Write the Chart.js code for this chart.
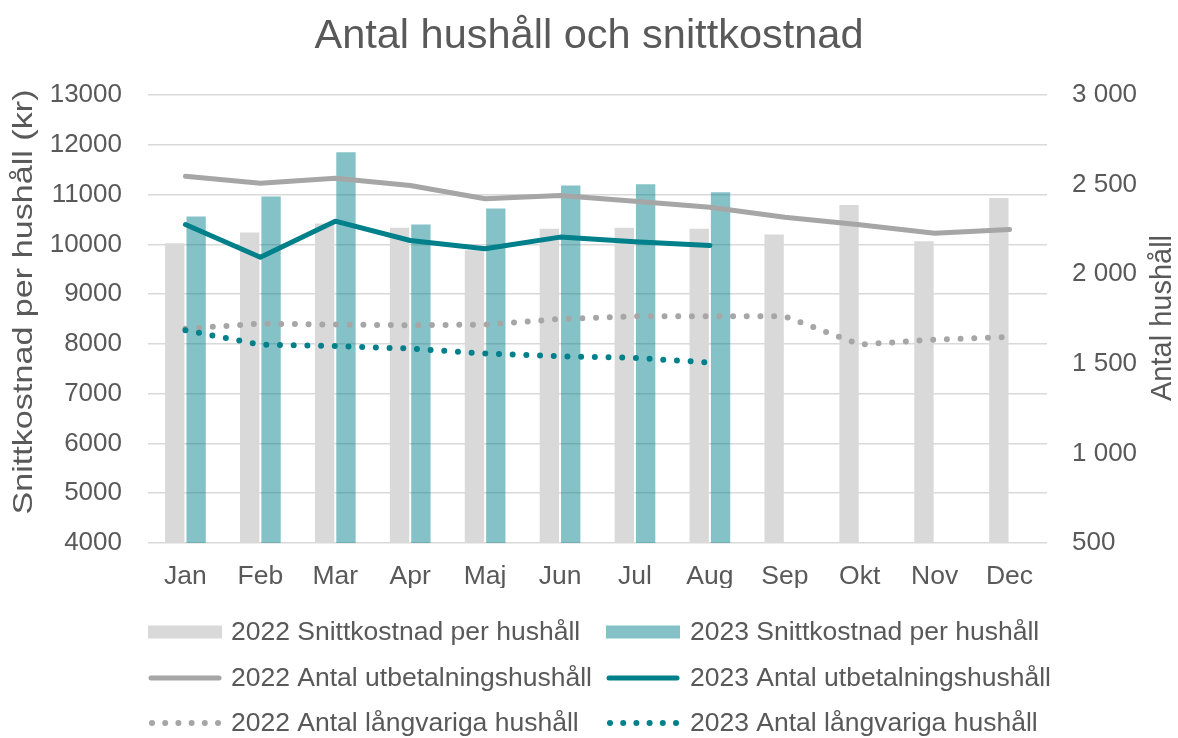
<!DOCTYPE html>
<html>
<head>
<meta charset="utf-8">
<script src="https://cdn.jsdelivr.net/npm/chart.js@4"></script>
<style>
  html, body { margin: 0; padding: 0; background: #fff; }
  #wrap { width: 1178px; height: 738px; }
</style>
</head>
<body>
<div id="wrap"><canvas id="c" width="1178" height="738"></canvas></div>
<script>
const categories = ['Jan','Feb','Mar','Apr','Maj','Jun','Jul','Aug','Sep','Okt','Nov','Dec'];
const cost2022 = [10020,10240,10420,10335,9880,10315,10335,10315,10200,10790,10060,10930];
const cost2023 = [10560,10960,11850,10400,10720,11180,11205,11045,null,null,null,null];
const hh2022 = [2547,2508,2535,2495,2421,2439,2407,2374,2318,2276,2229,2250];
const hh2023 = [2277,2095,2296,2188,2142,2207,2181,2160,null,null,null,null];
const long2022 = [1696,1724,1719,1715,1719,1750,1765,1765,1765,1607,1635,1650];
const long2023 = [1687,1607,1599,1585,1557,1542,1533,1507,null,null,null,null];
const leftTicks = [4000,13000,1000];
const rightTicks = [500,3000,500];
const leftTitle = 'Snittkostnad per hushåll (kr)';
const rightTitle = 'Antal hushåll';

const FONT = "'Liberation Sans', Arial, sans-serif";
const TXT = '#595959';
const GREY_BAR = '#D9D9D9';
const TEAL_BAR = 'rgba(0,128,138,0.48)';
const GREY_LINE = '#A6A6A6';
const TEAL_LINE = '#00808A';

function drawVerticalText(ctx, text, cx, cy, size, targetLen) {
  ctx.save();
  ctx.font = size + 'px ' + FONT;
  ctx.fillStyle = TXT;
  ctx.textAlign = 'center';
  ctx.textBaseline = 'middle';
  ctx.translate(cx, cy);
  ctx.rotate(-Math.PI / 2);
  if (targetLen) {
    const w = ctx.measureText(text).width;
    ctx.scale(targetLen / w, 1);
  }
  ctx.fillText(text, 0, 0);
  ctx.restore();
}

const legendPlugin = {
  id: 'customLegend',
  afterDraw(chart) {
    const ctx = chart.ctx;
    const ds = chart.data.datasets;
    const cols = [{sx: 148, tx: 231}, {sx: 606, tx: 690}];
    const rows = [632, 678, 723];
    const sw = 74;
    ctx.save();
    ctx.font = '26.5px ' + FONT;
    ctx.fillStyle = TXT;
    ctx.textBaseline = 'middle';
    ctx.textAlign = 'left';
    for (let i = 0; i < ds.length; i++) {
      const r = Math.floor(i / 2), c = i % 2;
      const y = rows[r], sx = cols[c].sx, tx = cols[c].tx;
      const d = ds[i];
      ctx.save();
      if (d.type === 'bar') {
        ctx.fillStyle = d.backgroundColor;
        ctx.fillRect(sx, y - 6.5, sw, 13);
      } else if (d.borderDash && d.borderDash.length) {
        ctx.fillStyle = d.borderColor;
        for (let k = 0; k < 6; k++) {
          ctx.beginPath();
          ctx.arc(sx + 4 + k * 13.2, y, 3, 0, Math.PI * 2);
          ctx.fill();
        }
      } else {
        ctx.strokeStyle = d.borderColor;
        ctx.lineWidth = 5;
        ctx.lineCap = 'round';
        ctx.beginPath();
        ctx.moveTo(sx + 3, y);
        ctx.lineTo(sx + sw - 3, y);
        ctx.stroke();
      }
      ctx.restore();
      ctx.fillStyle = TXT;
      ctx.fillText(d.label, tx, y + 1);
    }
    ctx.restore();
    drawVerticalText(ctx, leftTitle, 24, 302, 28, 425);
    drawVerticalText(ctx, rightTitle, 1163, 318, 29, 0);
  }
};

new Chart(document.getElementById('c'), {
  data: {
    labels: categories,
    datasets: [
      { type: 'bar', label: '2022 Snittkostnad per hushåll', data: cost2022, backgroundColor: GREY_BAR, yAxisID: 'y', order: 3, categoryPercentage: 0.57, barPercentage: 0.906 },
      { type: 'bar', label: '2023 Snittkostnad per hushåll', data: cost2023, backgroundColor: TEAL_BAR, yAxisID: 'y', order: 3, categoryPercentage: 0.57, barPercentage: 0.906 },
      { type: 'line', label: '2022 Antal utbetalningshushåll', data: hh2022, borderColor: GREY_LINE, borderWidth: 5, pointRadius: 0, yAxisID: 'y1', order: 2, borderCapStyle: 'round', borderJoinStyle: 'round', tension: 0 },
      { type: 'line', label: '2023 Antal utbetalningshushåll', data: hh2023, borderColor: TEAL_LINE, borderWidth: 5, pointRadius: 0, yAxisID: 'y1', order: 1, borderCapStyle: 'round', borderJoinStyle: 'round', tension: 0 },
      { type: 'line', label: '2022 Antal långvariga hushåll', data: long2022, borderColor: GREY_LINE, borderWidth: 6, pointRadius: 0, yAxisID: 'y1', order: 2, borderCapStyle: 'round', borderDash: [0, 13.7], tension: 0 },
      { type: 'line', label: '2023 Antal långvariga hushåll', data: long2023, borderColor: TEAL_LINE, borderWidth: 6, pointRadius: 0, yAxisID: 'y1', order: 1, borderCapStyle: 'round', borderDash: [0, 13.7], tension: 0 }
    ]
  },
  options: {
    responsive: false,
    animation: false,
    devicePixelRatio: 1,
    layout: { padding: { left: 0, right: 0, top: 0, bottom: 150 } },
    plugins: {
      legend: { display: false },
      tooltip: { enabled: false },
      title: {
        display: true,
        text: 'Antal hushåll och snittkostnad',
        color: TXT,
        font: { family: FONT, size: 41.5, weight: 'normal' },
        padding: { top: 12, bottom: 33.2 }
      }
    },
    scales: {
      x: {
        grid: { display: false, drawTicks: false },
        border: { display: false },
        ticks: { color: TXT, font: { family: FONT, size: 26.5 }, padding: 18, maxRotation: 0, autoSkip: false },
        afterFit(s) { s.height = 45; }
      },
      y: {
        position: 'left',
        min: leftTicks[0], max: leftTicks[1],
        grid: { color: '#D9D9D9', lineWidth: 1.5, drawTicks: false },
        border: { display: false },
        ticks: { stepSize: leftTicks[2], color: TXT, font: { family: FONT, size: 26 }, padding: 26, callback: v => String(v) },
        afterFit(s) { s.width = 148; }
      },
      y1: {
        position: 'right',
        min: rightTicks[0], max: rightTicks[1],
        grid: { display: false, drawTicks: false },
        border: { display: false },
        ticks: { stepSize: rightTicks[2], color: TXT, font: { family: FONT, size: 26 }, padding: 25, callback: v => String(v).replace(/\B(?=(\d{3})+(?!\d))/g, ' ') },
        afterFit(s) { s.width = 131; }
      }
    }
  },
  plugins: [legendPlugin]
});
</script>
</body>
</html>
